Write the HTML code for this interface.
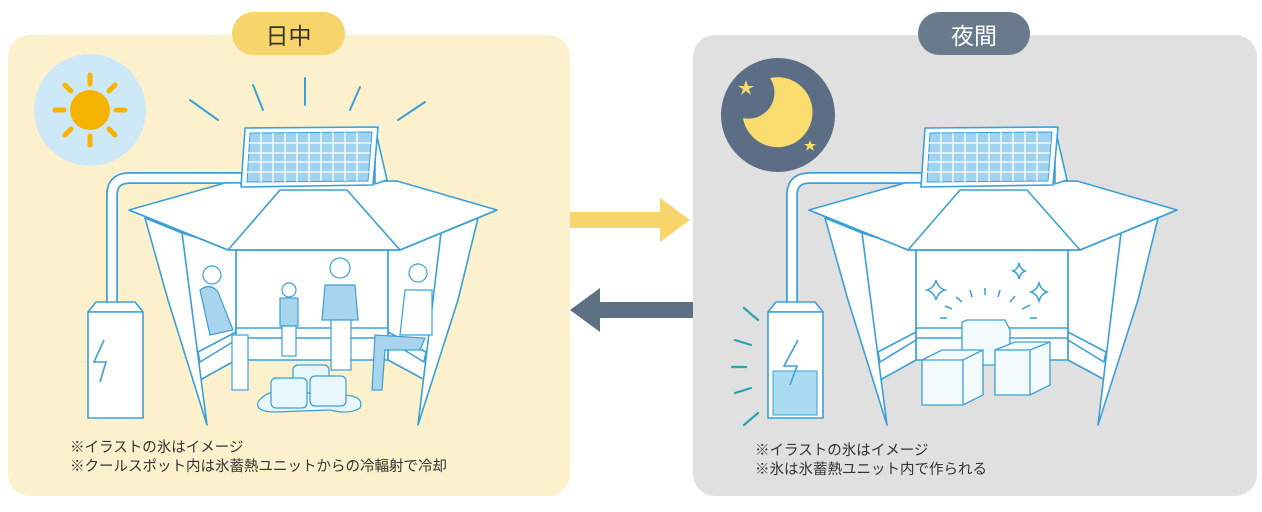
<!DOCTYPE html>
<html><head><meta charset="utf-8"><style>
body{margin:0;background:#fff;width:1262px;height:507px;overflow:hidden;font-family:"Liberation Sans","Noto Sans CJK JP",sans-serif}
</style></head><body>
<svg width="1262" height="507" viewBox="0 0 1262 507" xmlns="http://www.w3.org/2000/svg" font-family="Liberation Sans, Noto Sans CJK JP, sans-serif">
<defs>
<g id="shelter" stroke="#3aa0d8" stroke-width="1.6" fill="#fff" stroke-linejoin="round">
  <path d="M112 302 V195 Q112 178 130 178 H245" fill="none" stroke="#3aa0d8" stroke-width="12" stroke-linecap="round"/>
  <path d="M112 302 V195 Q112 178 130 178 H245" fill="none" stroke="#fff" stroke-width="8.5" stroke-linecap="round"/>
  <rect x="236" y="250" width="152" height="110"/>
  <polygon points="182,233 236,250 236,360 200,380"/>
  <polygon points="441,233 388,250 388,360 425,380"/>
  <!-- benches -->
  <polygon points="236,328 388,328 388,338 236,338" fill="#fff"/>
  <polygon points="198,352 236,332 236,340 200,362" fill="#fff"/>
  <polygon points="426,352 388,332 388,340 424,362" fill="#fff"/>
  <polygon points="145,218 182,233 207,425 168,300"/>
  <polygon points="478,218 441,233 418,425 458,300"/>
  <polygon points="129,210 225,183 397,181 497,210 400,250 228,250"/>
  <polyline points="129,210 228,250 400,250 497,210" fill="none"/>
  <polyline points="228,250 280,190 347,190 400,250" fill="none"/>
  <polygon points="375,128 387,180 375,184" />
  <polygon points="245,128 378,127 373,185 241,187"/>
  <g fill="#9fd3ef" stroke="#3aa0d8" stroke-width="1">
    <polygon points="250,133 372,132 368,181 247,182"/>
  </g>
  <g stroke="#fff" stroke-width="1.3" fill="none">
    <path d="M249 143 H371 M248 153 H370 M248 162 H369 M247 172 H369"/>
    <path d="M261 133 V182 M273 133 V182 M285 133 V182 M297 133 V182 M309 133 V182 M321 132 V181 M333 132 V181 M345 132 V181 M357 132 V181"/>
  </g>
  <polygon points="88,312 96,302 135,302 143,312"/>
  <rect x="88" y="312" width="55" height="106"/>
</g>
</defs>

<rect x="8" y="35" width="562" height="461" rx="22" fill="#fdf0cc"/>
<rect x="232" y="12" width="113" height="43" rx="21.5" fill="#f8d56a"/>
<text x="288.5" y="44" font-size="23" text-anchor="middle" fill="#333">日中</text>
<circle cx="90" cy="110" r="56" fill="#cde9f7"/>
<g stroke="#f6b400" stroke-width="5" stroke-linecap="round">
  <path d="M90 75 V84 M90 136 V145 M55 110 H64 M116 110 H125 M65 85 L71 91 M109 129 L115 135 M115 85 L109 91 M71 129 L65 135"/>
</g>
<circle cx="90" cy="110" r="20" fill="#f6b400"/>
<g stroke="#3aa0d8" stroke-width="2" stroke-linecap="round">
  <path d="M190 100 L218 120 M253 85 L263 110 M305 78 L305 105 M360 87 L350 110 M425 102 L398 120"/>
</g>
<use href="#shelter"/>
<g stroke="#3aa0d8" stroke-width="1.2" fill="#a9d4ee">
  <circle cx="212" cy="275" r="9" fill="#fff"/>
  <path d="M200 290 Q210 282 218 292 L233 330 L210 335 Z"/>
  <rect x="232" y="335" width="16" height="55" fill="#fff"/>
  <circle cx="289" cy="290" r="7" fill="#fff"/>
  <rect x="280" y="298" width="18" height="28"/>
  <rect x="282" y="326" width="14" height="30" fill="#fff"/>
  <circle cx="340" cy="268" r="10" fill="#fff"/>
  <path d="M325 285 L355 285 L358 320 L322 320 Z"/>
  <rect x="331" y="320" width="20" height="50" fill="#fff"/>
  <circle cx="418" cy="273" r="9" fill="#fff"/>
  <path d="M405 290 L432 290 L432 335 L400 335 Z" fill="#fff"/>
  <path d="M375 335 L425 338 L420 350 L385 350 L382 390 L372 390 Z"/>
</g>
<g stroke="#3aa0d8" stroke-width="1.2" fill="#e8f6fd">
  <path d="M258 402 Q268 388 290 392 L340 395 Q365 395 360 408 Q350 415 330 410 L275 412 Q255 412 258 402Z"/>
  <rect x="293" y="365" width="36" height="28" rx="5"/>
  <rect x="271" y="378" width="36" height="30" rx="5"/>
  <rect x="310" y="376" width="36" height="30" rx="5"/>
</g>
<path d="M104 340 L94 362 H106 L100 382" fill="none" stroke="#3aa0d8" stroke-width="1.6"/>
<text x="70" y="452" font-size="14.5" fill="#333">※イラストの氷はイメージ</text>
<text x="70" y="471" font-size="14.5" fill="#333">※クールスポット内は氷蓄熱ユニットからの冷輻射で冷却</text>

<polygon points="570,212 660,212 660,198 690,220 660,242 660,228 570,228" fill="#f8d56a"/>
<polygon points="693,302 600,302 600,288 570,310 600,332 600,318 693,318" fill="#5d7185"/>

<rect x="693" y="35" width="564" height="461" rx="22" fill="#e0e0e0"/>
<rect x="918" y="12" width="112" height="43" rx="21.5" fill="#687a8c"/>
<text x="974" y="44" font-size="23" text-anchor="middle" fill="#fff">夜間</text>
<circle cx="778" cy="115" r="57" fill="#5b6e85"/>
<path d="M770 78 A35 35 0 1 1 743 118 A26 26 0 0 0 770 78Z" fill="#fbdc6e"/>
<polygon points="746,80 748,86 754,86 749,89 751,95 746,91 741,95 743,89 738,86 744,86" fill="#fbdc6e"/>
<polygon points="810,140 811.5,144 816,144 812.5,146.5 814,151 810,148 806,151 807.5,146.5 804,144 808.5,144" fill="#fbdc6e"/>
<use href="#shelter" x="680"/>
<rect x="773" y="371" width="44" height="44" fill="#a9dcf0" stroke="#3aa0d8" stroke-width="1"/>
<path d="M798 340 L784 366 H797 L790 385" fill="none" stroke="#3aa0d8" stroke-width="1.6"/>
<g stroke="#2aa3b0" stroke-width="2.2" stroke-linecap="round">
  <path d="M744 308 L758 320 M735 340 L751 345 M732 367 L746 367 M735 393 L751 388 M744 425 L758 413"/>
</g>
<g stroke="#3aa0d8" stroke-width="1.5" fill="none">
  <path d="M936 280 Q938 288 945 290 Q938 292 936 300 Q934 292 927 290 Q934 288 936 280Z"/>
  <path d="M1019 263 Q1020 269 1025 271 Q1020 273 1019 279 Q1018 273 1013 271 Q1018 269 1019 263Z"/>
  <path d="M1039 283 Q1041 290 1047 292 Q1041 294 1039 301 Q1037 294 1031 292 Q1037 290 1039 283Z"/>
  <path d="M956 297 L962 302 M970 290 L972 297 M985 288 V295 M1000 290 L998 297 M1015 296 L1010 302 M945 306 L952 309 M1030 305 L1022 309 M940 318 H947 M1030 318 H1037"/>
</g>
<g stroke="#3aa0d8" stroke-width="1.3" fill="#f4fbff">
  <path d="M962 322 L967 320 H1005 L1010 330 V365 H962Z"/>
  <path d="M922 360 L942 350 H983 V395 L963 405 H922Z"/>
  <path d="M922 360 H963 L983 350 M963 360 V405" fill="none"/>
  <path d="M995 350 L1015 342 H1050 V385 L1030 395 H995Z"/>
  <path d="M995 350 H1030 L1050 342 M1030 350 V395" fill="none"/>
</g>
<text x="755" y="455" font-size="14.5" fill="#333">※イラストの氷はイメージ</text>
<text x="755" y="474" font-size="14.5" fill="#333">※氷は氷蓄熱ユニット内で作られる</text>
</svg>
</body></html>
